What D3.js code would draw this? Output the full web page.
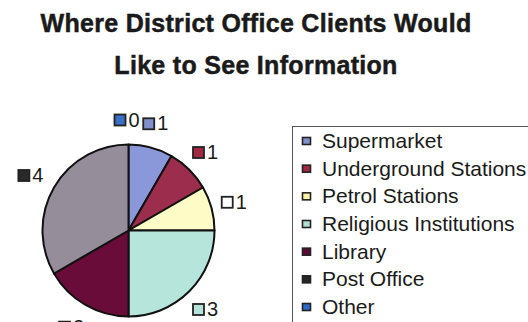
<!DOCTYPE html>
<html>
<head>
<meta charset="utf-8">
<script src="https://cdn.jsdelivr.net/npm/d3@7/dist/d3.min.js"></script>
<style>
  html, body { margin: 0; padding: 0; background: #ffffff; }
  svg { display: block; }
  text { font-family: "Liberation Sans", Arial, sans-serif; fill: #1a1a1a; }
</style>
</head>
<body>
<svg id="chart" width="528" height="322"></svg>
<script>
// Where clients would like to see information (counts)
const categories = ["Supermarket", "Underground Stations", "Petrol Stations",
  "Religious Institutions", "Library", "Post Office", "Other"];
const counts = [1, 1, 1, 3, 2, 4, 0];
const titleLines = ["Where District Office Clients Would", "Like to See Information"];

// slice fills and the small swatches used by labels / legend
const sliceColors = ["#8a98da", "#9c2d4c", "#fffbc6", "#b6e5dc", "#6a0c3a", "#958d9a", "#3c6fc4"];
const labelKeyColors = ["#7f90cc", "#a3283f", "#ffffff", "#b5e3da", "#5c0a36", "#2a2a2a", "#3a6fc6"];
const legendKeyColors = ["#7f90cc", "#a02840", "#fff3a8", "#b0ddd4", "#5a0a35", "#262626", "#2e68c8"];

const svg = d3.select("#chart");

// Title
svg.append("g").selectAll("text")
  .data(titleLines)
  .join("text")
  .attr("x", 256)
  .attr("y", (d, i) => 32 + i * 41.5)
  .attr("text-anchor", "middle")
  .style("font-size", "25px")
  .style("font-weight", "bold")
  .style("letter-spacing", "0.3px")
  .style("stroke", "#1a1a1a")
  .style("stroke-width", "0.5px")
  .text(d => d);

// Pie
const cx = 128.5, cy = 230.5, radius = 86;
const pie = d3.pie().sort(null).value(d => d.value);
const arcs = pie(categories.map((c, i) => ({ name: c, value: counts[i], i })));

const arc = d3.arc().innerRadius(0).outerRadius(radius);
const labelArc = d3.arc().innerRadius(111).outerRadius(111);

const g = svg.append("g").attr("transform", `translate(${cx},${cy})`);
g.selectAll("path")
  .data(arcs.filter(d => d.value > 0))
  .join("path")
  .attr("d", arc)
  .attr("fill", d => sliceColors[d.data.i])
  .attr("stroke", "#111")
  .attr("stroke-width", 2)
  .attr("stroke-linejoin", "round");

// Value labels with swatches
const labels = g.selectAll("g.lbl")
  .data(arcs)
  .join("g")
  .attr("class", "lbl")
  .attr("transform", d => {
    const [x, y] = labelArc.centroid(d);
    return `translate(${x},${y})`;
  });
labels.append("rect")
  .attr("x", -14).attr("y", -5)
  .attr("width", 11).attr("height", 11)
  .attr("fill", d => labelKeyColors[d.data.i])
  .attr("stroke", "#222")
  .attr("stroke-width", 1.8);
labels.append("text")
  .attr("x", 0).attr("y", 7)
  .style("font-size", "20px")
  .text(d => d.data.value);

// Legend
const legend = svg.append("g");
legend.append("rect")
  .attr("x", 292.5).attr("y", 126.5)
  .attr("width", 260).attr("height", 220)
  .attr("fill", "none")
  .attr("stroke", "#555")
  .attr("stroke-width", 1);

const rowY = d3.scalePoint().domain(categories).range([141, 307]);
const rows = legend.selectAll("g.row")
  .data(categories)
  .join("g")
  .attr("class", "row")
  .attr("transform", d => `translate(0,${rowY(d)})`);
rows.append("rect")
  .attr("x", 302.5).attr("y", -3.5)
  .attr("width", 8).attr("height", 7)
  .attr("fill", (d, i) => legendKeyColors[i])
  .attr("stroke", "#222")
  .attr("stroke-width", 1.6);
rows.append("text")
  .attr("x", 322).attr("y", 7)
  .style("font-size", "21px")
  .text(d => d);
</script>
</body>
</html>
